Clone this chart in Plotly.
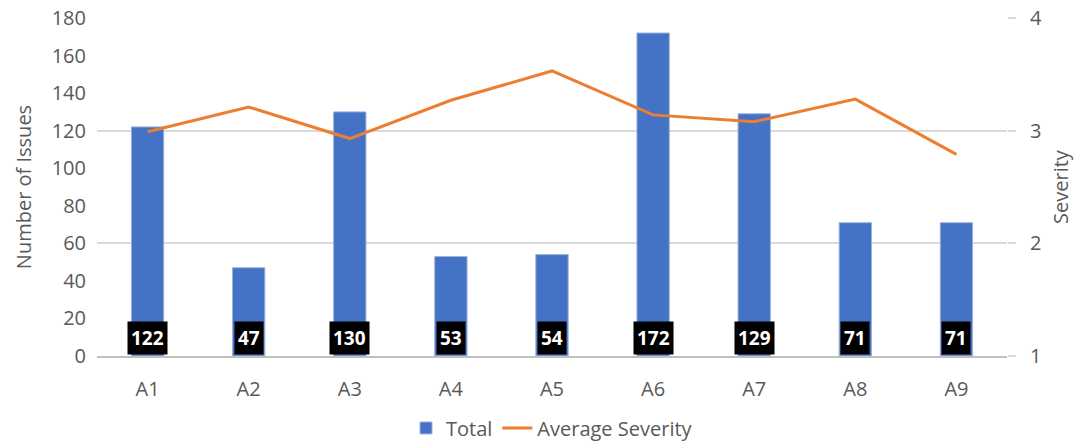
import plotly.graph_objects as go

categories = ["A1", "A2", "A3", "A4", "A5", "A6", "A7", "A8", "A9"]
total_issues = [122, 47, 130, 53, 54, 172, 129, 71, 71]
avg_severity = [2.99, 3.21, 2.93, 3.27, 3.53, 3.14, 3.08, 3.28, 2.79]
left_ticks = list(range(0, 181, 20))
right_ticks = [1, 2, 3, 4]

BLUE = "#4472C4"
ORANGE = "#ED7D31"
TEXT = "#595959"
FONT = "Open Sans"

fig = go.Figure()
fig.add_trace(go.Bar(
    x=categories, y=total_issues, name="Total",
    marker=dict(color=BLUE, line=dict(color="#9DB3DD", width=1)),
    width=0.32, yaxis="y",
))
fig.add_trace(go.Scatter(
    x=categories, y=avg_severity, name="Average Severity",
    mode="lines", line=dict(color=ORANGE, width=3), yaxis="y2",
))

# value boxes near the base of each bar
for cat, val in zip(categories, total_issues):
    fig.add_annotation(
        x=cat, y=9.5, xref="x", yref="y", text=f"<b>{val}</b>",
        showarrow=False, bgcolor="black", borderpad=3,
        font=dict(family=FONT, size=19, color="white"),
    )

fig.update_layout(
    width=1081, height=442,
    margin=dict(l=97, r=74, t=18, b=86, autoexpand=False),
    plot_bgcolor="white", paper_bgcolor="white",
    font=dict(family=FONT, color=TEXT, size=20),
    showlegend=True,
    legend=dict(orientation="h", x=0.5, xanchor="center", y=-0.213, yanchor="middle",
                font=dict(size=20, color=TEXT), traceorder="normal"),
    xaxis=dict(
        showgrid=False, showline=True, linecolor="#BFBFBF", linewidth=1.5,
        ticks="", tickfont=dict(size=20, color=TEXT), ticklabelstandoff=14,
    ),
    yaxis=dict(
        range=[0, 180], tickvals=left_ticks, showgrid=False, zeroline=False,
        title=dict(text="Number of Issues", font=dict(size=20, color=TEXT), standoff=14),
        tickfont=dict(size=20, color=TEXT), ticklabelstandoff=10,
    ),
    yaxis2=dict(
        range=[1, 4], tickvals=right_ticks, overlaying="y", side="right",
        showgrid=True, gridcolor="#D9D9D9", gridwidth=1.5, zeroline=False,
        ticks="outside", ticklen=8, tickcolor="#D9D9D9", tickwidth=1.5,
        title=dict(text="Severity", font=dict(size=20, color=TEXT), standoff=12),
        tickfont=dict(size=20, color=TEXT), ticklabelstandoff=10,
    ),
)

fig.write_html("out.html")
